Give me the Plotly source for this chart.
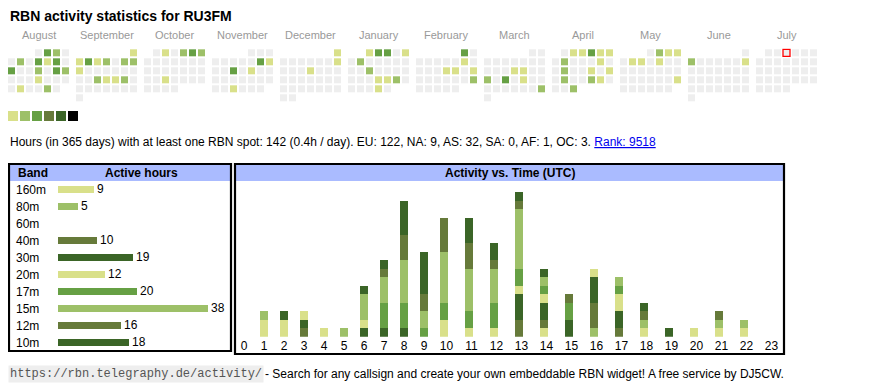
import calendar
import plotly.graph_objects as go

PAGE_W, PAGE_H = 870, 390
BODY_MARGIN = 8  # default page margin around the plot div
W, H = PAGE_W - BODY_MARGIN, PAGE_H - BODY_MARGIN
FONT = "Liberation Sans, Arial, sans-serif"
MONO = "Liberation Mono, Courier New, monospace"

# ---------------- data ----------------
CALLSIGN = "RU3FM"
MONTH_NAMES = ["August", "September", "October", "November", "December", "January",
               "February", "March", "April", "May", "June", "July"]
MONTH_YEARS = [(2024, 8), (2024, 9), (2024, 10), (2024, 11), (2024, 12), (2025, 1),
               (2025, 2), (2025, 3), (2025, 4), (2025, 5), (2025, 6), (2025, 7)]

# daily activity level (day of month -> level 1..5 of the colour legend); other days 0
aug = {2: 3, 3: 2, 6: 2, 8: 3, 9: 1, 10: 3, 12: 3, 15: 2, 17: 3, 18: 2, 22: 1, 27: 1, 30: 2}
sep = {1: 1, 2: 1, 3: 3, 4: 1, 5: 2, 7: 2, 8: 2, 9: 1, 18: 2, 19: 1, 20: 1, 21: 2}
oct_ = {2: 1, 4: 2, 5: 3, 6: 2, 23: 1}
nov = {9: 3, 10: 1, 13: 3, 15: 1, 27: 1}
dec = {1: 1, 8: 1, 12: 1}
jan = {1: 1, 2: 3, 3: 3, 5: 1, 7: 2, 15: 2, 23: 1, 24: 1, 25: 2, 30: 1}
feb = {1: 3, 8: 1, 13: 1, 14: 1, 16: 1, 23: 2}
mar = {13: 1, 14: 1, 17: 2, 19: 3, 21: 1, 30: 2}
apr = {2: 1, 3: 1, 4: 3, 5: 1, 6: 1, 8: 2, 12: 1, 15: 2, 18: 1, 20: 1, 22: 2, 25: 2, 26: 1, 30: 2}
may = {2: 2, 3: 1, 4: 1, 6: 1, 7: 1, 9: 1, 25: 1}
jun = {2: 2, 8: 1}
jul = {}
MONTH_LEVELS = [aug, sep, oct_, nov, dec, jan, feb, mar, apr, may, jun, jul]
TODAY = (2025, 7, 3)

LEVEL_COLORS = ["#eeeeee", "#d9e08a", "#9dc068", "#66a044", "#667a3a", "#3b6527", "#000000"]
LEGEND_LEVELS = [1, 2, 3, 4, 5, 6]

TOTAL_HOURS = 142
HOURS_PER_DAY = 0.4
CONTINENTS = ["EU", "NA", "AS", "SA", "AF", "OC"]
CONT_HOURS = [122, 9, 32, 0, 1, 3]
RANK = 9518

BANDS = ["160m", "80m", "60m", "40m", "30m", "20m", "17m", "15m", "12m", "10m"]
BAND_HOURS = [9, 5, 0, 10, 19, 12, 20, 38, 16, 18]
BAND_COLORS = ["#d9e08a", "#9dc068", "#66a044", "#667a3a", "#3b6527",
               "#d9e08a", "#66a044", "#9dc068", "#667a3a", "#3b6527"]

HOURS = list(range(24))
HOUR_LABELS = [str(h) for h in HOURS]
h160 = [0, 2, 2, 0, 1, 0, 0, 0, 0, 0, 0, 0, 0, 0, 1, 0, 0, 0, 1, 0, 0, 1, 1, 0]
h80 = [0, 1, 0, 0, 0, 0, 0, 0, 0, 0, 0, 0, 0, 0, 0, 0, 1, 0, 1, 0, 0, 1, 1, 0]
h60 = [0, 0, 0, 0, 0, 0, 0, 0, 0, 0, 0, 0, 0, 0, 0, 0, 0, 0, 0, 0, 0, 0, 0, 0]
h40 = [0, 0, 0, 1, 0, 0, 0, 0, 0, 0, 0, 0, 0, 2, 1, 0, 3, 1, 1, 0, 0, 1, 0, 0]
h30 = [0, 0, 1, 1, 0, 0, 1, 1, 1, 0, 0, 0, 0, 3, 2, 2, 3, 2, 1, 1, 0, 0, 0, 0]
h20 = [0, 0, 0, 1, 0, 0, 1, 0, 0, 0, 2, 1, 1, 1, 1, 0, 1, 2, 0, 0, 1, 0, 0, 0]
h17 = [0, 0, 0, 0, 0, 0, 0, 3, 3, 1, 2, 2, 3, 2, 1, 2, 0, 1, 0, 0, 0, 0, 0, 0]
h15 = [0, 0, 0, 0, 0, 1, 3, 3, 5, 2, 6, 5, 4, 7, 1, 0, 0, 1, 0, 0, 0, 0, 0, 0]
h12 = [0, 0, 0, 0, 0, 0, 0, 1, 3, 2, 4, 3, 1, 1, 0, 1, 0, 0, 0, 0, 0, 0, 0, 0]
h10 = [0, 0, 0, 0, 0, 0, 1, 1, 4, 5, 0, 3, 2, 1, 1, 0, 0, 0, 0, 0, 0, 0, 0, 0]
HOURLY = [h160, h80, h60, h40, h30, h20, h17, h15, h12, h10]

URL = "https://rbn.telegraphy.de/activity/"
FOOTER = "- Search for any callsign and create your own embeddable RBN widget! A free service by DJ5CW."


# ---------------- helpers (page pixel -> paper fraction) ----------------
def fx(p):
    return min(max((p - BODY_MARGIN) / W, 0), 1)


def fy(p):
    return min(max(1 - (p - BODY_MARGIN) / H, 0), 1)


def sid(i):
    return "" if i == 1 else str(i)


def grid_axis(x0, ncols, pitch):
    """domain/range so that column k spans [x0 + k*pitch, x0 + (k+1)*pitch] page px"""
    xs = max(x0, BODY_MARGIN)
    return [fx(xs), fx(x0 + ncols * pitch)], [-0.5 + (xs - x0) / pitch, ncols - 0.5]


n = len(LEVEL_COLORS)
colorscale = []
for k, c in enumerate(LEVEL_COLORS):
    colorscale += [[k / n, c], [(k + 1) / n, c]]

fig = go.Figure()
layout = {}

# ---------------- calendar ----------------
for m, ((yr, mo), levels) in enumerate(zip(MONTH_YEARS, MONTH_LEVELS)):
    a = sid(m + 1)
    weeks = calendar.monthcalendar(yr, mo)
    z = []
    for wk in weeks:
        z.append([None if d == 0 else levels.get(d, 0) for d in wk])
    while len(z) < 6:
        z.append([None] * 7)
    fig.add_trace(go.Heatmap(z=z, x=list(range(7)), y=list(range(6)), colorscale=colorscale,
                             zmin=-0.5, zmax=n - 0.5, showscale=False, xgap=2, ygap=2,
                             hoverinfo="skip", xaxis=f"x{a}", yaxis=f"y{a}"))
    if (yr, mo) == TODAY[:2]:
        for r, wk in enumerate(weeks):
            if TODAY[2] in wk:
                fig.add_trace(go.Scatter(x=[wk.index(TODAY[2])], y=[r], mode="markers",
                                         marker=dict(symbol="square-open", size=7, color="red",
                                                     line=dict(width=1.3, color="red")),
                                         hoverinfo="skip", xaxis=f"x{a}", yaxis=f"y{a}"))
    dom, rng = grid_axis(7 + 68 * m, 7, 9)
    layout[f"xaxis{a}"] = dict(domain=dom, range=rng, visible=False, fixedrange=True, anchor=f"y{a}")
    layout[f"yaxis{a}"] = dict(domain=[fy(102.3), fy(48.3)], range=[5.5, -0.5], visible=False,
                               fixedrange=True, anchor=f"x{a}")

# colour legend
fig.add_trace(go.Heatmap(z=[LEGEND_LEVELS], colorscale=colorscale, zmin=-0.5, zmax=n - 0.5,
                         showscale=False, xgap=2, ygap=0, hoverinfo="skip", xaxis="x13", yaxis="y13"))
dom, rng = grid_axis(7, len(LEGEND_LEVELS), 12)
layout["xaxis13"] = dict(domain=dom, range=rng, visible=False, anchor="y13")
layout["yaxis13"] = dict(domain=[fy(121), fy(111)], visible=False, anchor="x13", range=[-0.5, 0.5])

# ---------------- band table ----------------
PX_PER_HOUR = 150 / 38
fig.add_trace(go.Bar(x=BAND_HOURS, y=BANDS, orientation="h", marker=dict(color=BAND_COLORS, line=dict(width=0)),
                     width=0.4, text=[str(v) if v else "" for v in BAND_HOURS], textposition="outside",
                     textfont=dict(size=12, color="#000", family=FONT), constraintext="none",
                     cliponaxis=False, hoverinfo="skip", xaxis="x14", yaxis="y14"))
layout["xaxis14"] = dict(domain=[fx(58), fx(228)], range=[0, 170 / PX_PER_HOUR], visible=False, anchor="y14")
layout["yaxis14"] = dict(domain=[fy(350.8), fy(180.8)], type="category", categoryorder="array",
                         categoryarray=BANDS, range=[len(BANDS) - 0.5, -0.5], anchor="free",
                         position=fx(12), side="left", ticklabelposition="inside", ticks="",
                         showgrid=False, zeroline=False, showline=False,
                         tickfont=dict(size=12, color="#000", family=FONT))

# ---------------- activity vs time ----------------
CELL_W = {1: 20, 2: 25}
starts, s = [], 0
for lab in HOUR_LABELS:
    starts.append(s)
    s += CELL_W[len(lab)]
tick_x = [st + CELL_W[len(lab)] / 2 for st, lab in zip(starts, HOUR_LABELS)]
bar_x = [st + 10 for st in starts]
UNIT_PX = 8.5
for band, col, vals in zip(BANDS, BAND_COLORS, HOURLY):
    fig.add_trace(go.Bar(x=bar_x, y=vals, width=8, name=band, marker=dict(color=col, line=dict(width=0)),
                         hoverinfo="skip", xaxis="x15", yaxis="y15"))
layout["xaxis15"] = dict(domain=[fx(234), fx(785)], range=[0, 551], anchor="y15", tickmode="array",
                         tickvals=tick_x, ticktext=HOUR_LABELS, ticks="", showgrid=False, zeroline=False,
                         showline=False, tickfont=dict(size=12, color="#000", family=FONT))
layout["yaxis15"] = dict(domain=[fy(336.7), fy(181)], range=[0, (336.7 - 181) / UNIT_PX], visible=False,
                         anchor="x15")

# ---------------- boxes ----------------
shapes = [
    dict(type="rect", xref="paper", yref="paper", x0=fx(10), x1=fx(230), y0=fy(181), y1=fy(165),
         fillcolor="#aabbff", line=dict(width=0), layer="below"),
    dict(type="rect", xref="paper", yref="paper", x0=fx(236), x1=fx(783), y0=fy(181), y1=fy(165),
         fillcolor="#aabbff", line=dict(width=0), layer="below"),
    dict(type="rect", xref="paper", yref="paper", x0=fx(9), x1=fx(231), y0=fy(351), y1=fy(164),
         line=dict(width=2.2, color="#000")),
    dict(type="rect", xref="paper", yref="paper", x0=fx(235), x1=fx(784), y0=fy(354), y1=fy(164),
         line=dict(width=2.2, color="#000")),
]

# ---------------- texts ----------------
ann = []
ann.append(dict(x=fx(8), y=fy(16), xref="paper", yref="paper", xanchor="left", yanchor="middle",
                text=f"<b>RBN activity statistics for {CALLSIGN}</b>", showarrow=False,
                font=dict(size=14, color="#000", family=FONT)))
for m, name in enumerate(MONTH_NAMES):
    ann.append(dict(x=fx(7 + 68 * m + 31.5), y=fy(35), xref="paper", yref="paper", xanchor="center",
                    yanchor="middle", text=name, showarrow=False,
                    font=dict(size=11, color="#999", family=FONT)))
cont = ", ".join(f"{c}: {v}" for c, v in zip(CONTINENTS, CONT_HOURS))
stat = (f"Hours (in 365 days) with at least one RBN spot: {TOTAL_HOURS} ({HOURS_PER_DAY}h / day). "
        f"{cont}. <a href='https://rbn.telegraphy.de/activity/'><span style='color:#0000ee;text-decoration:underline'>Rank: {RANK}</span></a>")
ann.append(dict(x=fx(8), y=fy(142), xref="paper", yref="paper", xanchor="left", yanchor="middle",
                text=stat, showarrow=False, font=dict(size=12, color="#000", family=FONT)))
ann.append(dict(x=fx(16), y=fy(173), xref="paper", yref="paper", xanchor="left", yanchor="middle",
                text="<b>Band</b>", showarrow=False, font=dict(size=12, color="#000", family=FONT)))
ann.append(dict(x=fx(141.7), y=fy(173), xref="paper", yref="paper", xanchor="center", yanchor="middle",
                text="<b>Active hours</b>", showarrow=False, font=dict(size=12, color="#000", family=FONT)))
ann.append(dict(x=fx(509.5), y=fy(173), xref="paper", yref="paper", xanchor="center", yanchor="middle",
                text="<b>Activity vs. Time (UTC)</b>", showarrow=False, font=dict(size=12, color="#000", family=FONT)))
ann.append(dict(x=fx(8), y=fy(374), xref="paper", yref="paper", xanchor="left", yanchor="middle",
                text=URL, showarrow=False, bgcolor="#eeeeee", borderpad=1,
                font=dict(size=12, color="#555", family=MONO)))
ann.append(dict(x=fx(8 + len(URL) * 7.2 + 3), y=fy(374), xref="paper", yref="paper", xanchor="left",
                yanchor="middle", text=FOOTER, showarrow=False,
                font=dict(size=12, color="#000", family=FONT)))

fig.update_layout(width=W, height=H, margin=dict(l=0, r=0, t=0, b=0), paper_bgcolor="white",
                  plot_bgcolor="rgba(0,0,0,0)", showlegend=False, barmode="stack", bargap=0,
                  shapes=shapes, annotations=ann, **layout)
fig.write_html("out.html")
